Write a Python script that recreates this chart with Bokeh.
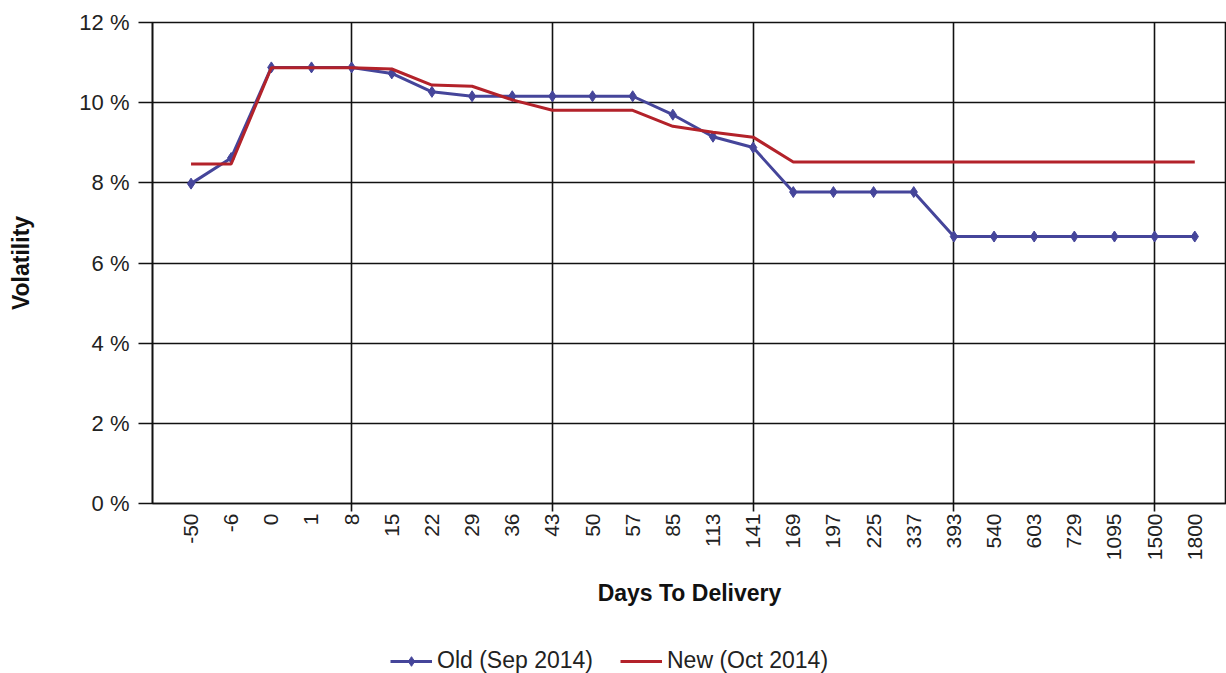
import math
from bokeh.plotting import figure
from bokeh.layouts import column
from bokeh.models import (Range1d, FixedTicker, PrintfTickFormatter, Legend, LegendItem)
from bokeh.embed import file_html
from bokeh.resources import INLINE

days = ["-50", "-6", "0", "1", "8", "15", "22", "29", "36", "43", "50", "57", "85",
        "113", "141", "169", "197", "225", "337", "393", "540", "603", "729",
        "1095", "1500", "1800"]
old_sep_2014 = [7.98, 8.62, 10.88, 10.88, 10.88, 10.73, 10.27, 10.16, 10.16, 10.16,
                10.16, 10.16, 9.70, 9.15, 8.88, 7.77, 7.77, 7.77, 7.77,
                6.66, 6.66, 6.66, 6.66, 6.66, 6.66, 6.66]
new_oct_2014 = [8.47, 8.47, 10.87, 10.87, 10.87, 10.84, 10.44, 10.41, 10.07, 9.81,
                9.81, 9.81, 9.41, 9.26, 9.14, 8.52, 8.52, 8.52, 8.52, 8.52,
                8.52, 8.52, 8.52, 8.52, 8.52, 8.52]
y_ticks = [0, 2, 4, 6, 8, 10, 12]
series_names = ["Old (Sep 2014)", "New (Oct 2014)"]

xs = list(range(len(days)))
FONT = "Liberation Sans"
OLD_C = "#45459a"
NEW_C = "#b3222a"

p = figure(width=1226, height=630, output_backend="svg", toolbar_location=None,
           x_range=Range1d(-0.96, 25.79), y_range=Range1d(0, 12),
           min_border_left=152, min_border_right=0, min_border_top=22,
           min_border_bottom=127)
p.background_fill_color = "white"
p.border_fill_color = "white"
p.outline_line_color = "#111111"
p.outline_line_width = 1.6

# axes
xa = p.xaxis[0]
xa.ticker = FixedTicker(ticks=xs, minor_ticks=[-1, 4, 9, 14, 19, 24])
xa.major_label_overrides = {i: d for i, d in enumerate(days)}
xa.major_label_orientation = math.pi / 2
xa.major_tick_line_color = None
xa.major_tick_out = 0
xa.major_tick_in = 0
xa.minor_tick_line_color = "#111111"
xa.minor_tick_line_width = 1.6
xa.minor_tick_out = 8
xa.minor_tick_in = 0
xa.major_label_standoff = 2
xa.major_label_text_font = FONT
xa.major_label_text_font_size = "21px"
xa.major_label_text_color = "#222222"
xa.axis_line_color = "#111111"
xa.axis_line_width = 1.6
xa.axis_label = "Days To Delivery"
xa.axis_label_text_font = FONT
xa.axis_label_text_font_size = "23px"
xa.axis_label_text_font_style = "bold"
xa.axis_label_text_color = "#111111"
xa.axis_label_standoff = 17

ya = p.yaxis[0]
ya.ticker = FixedTicker(ticks=y_ticks, minor_ticks=[])
ya.formatter = PrintfTickFormatter(format="%d %%")
ya.major_tick_out = 14
ya.major_tick_in = 0
ya.major_tick_line_color = "#111111"
ya.major_tick_line_width = 1.6
ya.minor_tick_line_color = None
ya.major_label_standoff = 9
ya.major_label_text_font = FONT
ya.major_label_text_font_size = "22px"
ya.major_label_text_color = "#222222"
ya.axis_line_color = "#111111"
ya.axis_line_width = 1.6
ya.axis_label = "Volatility"
ya.axis_label_text_font = FONT
ya.axis_label_text_font_size = "23px"
ya.axis_label_text_font_style = "bold"
ya.axis_label_text_color = "#111111"
ya.axis_label_standoff = 42

# grids
p.xgrid.ticker = FixedTicker(ticks=[4, 9, 14, 19, 24])
p.ygrid.ticker = FixedTicker(ticks=y_ticks)
for g in (p.xgrid[0], p.ygrid[0]):
    g.grid_line_color = "#111111"
    g.grid_line_width = 1.6

# series
p.line(xs, old_sep_2014, line_color=OLD_C, line_width=3)
p.scatter(xs, old_sep_2014, marker="diamond", size=11,
          fill_color=OLD_C, line_color=OLD_C)
p.line(xs, new_oct_2014, line_color=NEW_C, line_width=3)

# legend strip below the chart (proxy renderers kept out of view)
lf = figure(width=1226, height=43, output_backend="svg", toolbar_location=None,
            x_range=Range1d(1000, 1001), y_range=Range1d(1000, 1001),
            min_border=0, x_axis_type=None, y_axis_type=None)
lf.outline_line_color = None
lf.background_fill_color = "white"
lf.border_fill_color = "white"
lf.xgrid.visible = False
lf.ygrid.visible = False
lo_line = lf.line(xs, old_sep_2014, line_color=OLD_C, line_width=3)
lo_pts = lf.scatter(xs, old_sep_2014, marker="diamond", size=11,
                    fill_color=OLD_C, line_color=OLD_C)
ln_line = lf.line(xs, new_oct_2014, line_color=NEW_C, line_width=3)
legend = Legend(items=[LegendItem(label=series_names[0], renderers=[lo_line, lo_pts]),
                       LegendItem(label=series_names[1], renderers=[ln_line])],
                orientation="horizontal", location=(238, -1),
                label_text_font=FONT, label_text_font_size="23px",
                label_text_color="#222222", glyph_width=42, glyph_height=24,
                label_height=24,
                label_standoff=5, spacing=27, padding=0, margin=0,
                border_line_color=None, background_fill_alpha=0)
lf.add_layout(legend, "center")

open("out.html", "w").write(file_html(column(p, lf, spacing=0), INLINE))
